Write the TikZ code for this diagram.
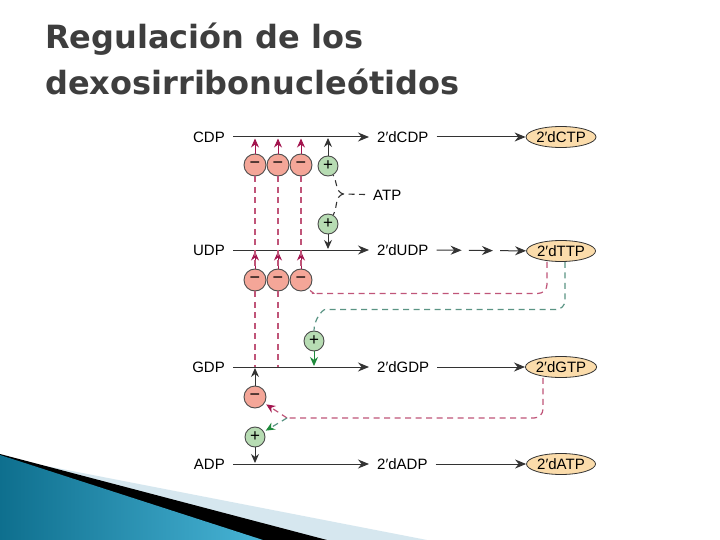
\documentclass[tikz,border=0pt]{standalone}
\usepackage{fontspec}
\setmainfont{Liberation Sans}
\newfontfamily\titlefont{DejaVu Sans}
\usepackage{xcolor}
\usepackage{tikz}
\usetikzlibrary{calc,arrows.meta,shapes.geometric}

\definecolor{inhred}{HTML}{A3144E}
\definecolor{inhdash}{HTML}{C05579}
\definecolor{actgreen}{HTML}{1F8A3C}
\definecolor{actdash}{HTML}{5A9484}
\definecolor{minusfill}{HTML}{F4A698}
\definecolor{plusfill}{HTML}{B7DCB3}
\definecolor{ntpfill}{HTML}{FBDCAB}
\definecolor{titlegray}{HTML}{3E3E3E}
\definecolor{wedgedark}{HTML}{0E6F8E}
\definecolor{wedgelight}{HTML}{48B4D6}
\definecolor{wedgepale}{HTML}{D6E7EF}

\begin{document}
\begin{tikzpicture}[x=1pt,y=-1pt,
    lbl/.style={font=\fontsize{15}{18}\selectfont, inner xsep=8pt, inner ysep=0pt, text height=10.5pt, text depth=0pt},
    ntp/.style={ellipse, draw=black!80, fill=ntpfill, line width=0.8pt, inner sep=0pt, minimum width=69pt, minimum height=21pt, font=\fontsize{15}{18}\selectfont},
    minus/.style={circle, draw=black!70, fill=minusfill, line width=0.9pt, minimum size=22pt, inner sep=0pt, font=\fontsize{18}{18}\selectfont},
    plus/.style={circle, draw=black!70, fill=plusfill, line width=0.9pt, minimum size=20pt, inner sep=0pt, font=\fontsize{17}{17}\selectfont},
    conv/.style={draw=black!80, line width=1pt, -{Stealth[length=11pt,width=9pt]}},
    blackup/.style={draw=black!80, line width=1pt, -{Stealth[length=9pt,width=8pt]}, shorten >=1pt},
    inharrow/.style={draw=inhred, line width=1pt, -{Stealth[length=9pt,width=8pt]}, shorten >=1.5pt},
    actarrow/.style={draw=actgreen, line width=1pt, -{Stealth[length=9pt,width=8pt]}, shorten >=1pt},
    inhline/.style={draw=inhdash, line width=1.2pt, dash pattern=on 6pt off 4.5pt},
    actline/.style={draw=actdash, line width=1.2pt, dash pattern=on 6pt off 4.5pt},
    atpline/.style={draw=black!80, line width=1.1pt, dash pattern=on 6pt off 4.5pt},
    titletxt/.style={font=\titlefont\bfseries\fontsize{32}{36}\selectfont, text=titlegray, inner sep=0pt}]

    \fill[white] (0,0) rectangle (720,540);
    \useasboundingbox (0,0) rectangle (720,540);

    % slide decoration
    \fill[wedgepale] (0,457) -- (427,540) -- (0,540) -- cycle;
    \fill[black] (0,454) -- (327,540) -- (0,540) -- cycle;
    \shade[left color=wedgedark, right color=wedgelight] (0,455) -- (263,540) -- (0,540) -- cycle;

    \node[titletxt, anchor=base west] (title1) at (45,49) {Regulación de los};
    \node[titletxt, anchor=base west] (title2) at (45,95) {dexosirribonucleótidos};

    % rows
    \node[lbl, anchor=east] (cdp) at (233,137) {CDP};
    \node[lbl, anchor=west] (dcdp) at (369,137) {2′dCDP};
    \node[ntp] (dctp) at (561,137) {2′dCTP};

    \node[lbl, anchor=east] (udp) at (233,250) {UDP};
    \node[lbl, anchor=west] (dudp) at (369,250) {2′dUDP};
    \node[ntp] (dttp) at (561,251) {2′dTTP};

    \node[lbl, anchor=east] (gdp) at (233,367) {GDP};
    \node[lbl, anchor=west] (dgdp) at (369,367) {2′dGDP};
    \node[ntp] (dgtp) at (561,367) {2′dGTP};

    \node[lbl, anchor=east] (adp) at (233,464) {ADP};
    \node[lbl, anchor=west] (dadp) at (369,464) {2′dADP};
    \node[ntp] (datp) at (561,464) {2′dATP};

    \draw[conv] (cdp) -- (dcdp);
    \draw[conv] (dcdp) -- (dctp);
    \draw[conv] (udp) -- (dudp);
    \path (dudp.east) -- (dttp.west) coordinate[pos=0.28] (u1) coordinate[pos=0.36] (u2)
        coordinate[pos=0.63] (u3) coordinate[pos=0.71] (u4);
    \draw[conv] (dudp) -- (u1);
    \draw[conv] (u2) -- (u3);
    \draw[conv] (u4) -- (dttp);
    \draw[conv] (gdp) -- (dgdp);
    \draw[conv] (dgdp) -- (dgtp);
    \draw[conv] (adp) -- (dadp);
    \draw[conv] (dadp) -- (datp);

    % effectors
    \foreach \i/\x in {1/255,2/278,3/301} {
        \node[minus] (inhC\i) at (\x,165) {−};
        \node[minus] (inhU\i) at (\x,280) {−};
        \draw[inharrow] (inhC\i) -- (inhC\i |- cdp);
        \draw[inharrow] (inhU\i) -- (inhU\i |- udp);
        \draw[inhline] (inhC\i) -- (inhU\i);
    }
    \draw[inhline] (inhU1) -- (inhU1 |- gdp);
    \draw[inhline] (inhU2) -- (inhU2 |- gdp);

    \node[plus] (actC) at (328,166) {+};
    \node[plus] (actU) at (328,224) {+};
    \node[plus] (actG) at (314,341) {+};
    \node[minus] (inhG) at (255,397) {−};
    \node[plus] (actA) at (255,437) {+};

    \draw[blackup] (actC) -- (actC |- cdp);
    \draw[blackup] (actU) -- (actU |- udp);
    \draw[blackup] (inhG) -- (inhG |- gdp);
    \draw[blackup] (actA) -- (actA |- adp);
    \draw[actarrow] (actG) -- (actG |- gdp);

    % ATP
    \node[lbl, anchor=west] (atp) at (365,195) {ATP};
    \coordinate (atpj) at (343,194);
    \draw[atpline] (atp) -- (atpj);
    \draw[atpline] (atpj) to[out=160,in=-60] (actC);
    \draw[atpline] (atpj) to[out=200,in=60] (actU);

    % feedback from dTTP and dGTP
    \draw[inhline, rounded corners=9pt] ([xshift=-14pt]dttp.south) |- ($(inhU3.south)+(20,2)$) to[out=180,in=-50] (inhU3);
    \draw[actline, rounded corners=9pt] ([xshift=4pt]dttp.south) |- ($(actG.north)+(20,-21)$) to[out=180,in=90] (actG);

    \coordinate (gj) at (287,418);
    \draw[inhline, rounded corners=9pt] ([xshift=-18pt]dgtp.south) |- (gj);
    \draw[inhline, -{Stealth[length=9pt,width=8pt,color=inhred]}, shorten >=2pt] (gj) -- (inhG);
    \draw[actline, -{Stealth[length=9pt,width=8pt,color=actgreen]}, shorten >=2pt] (gj) -- (actA);

\end{tikzpicture}
\end{document}
